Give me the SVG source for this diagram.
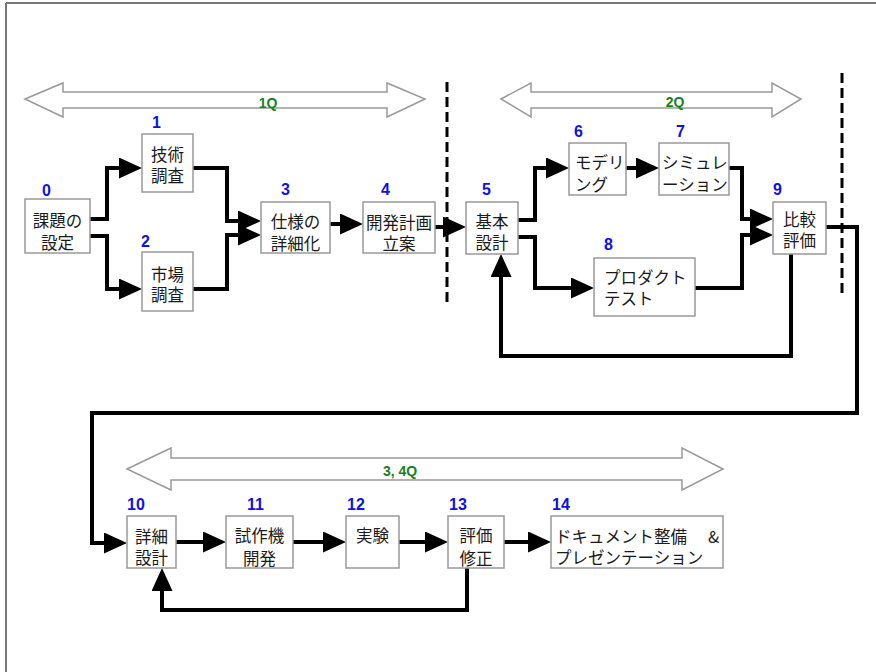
<svg xmlns="http://www.w3.org/2000/svg" width="876" height="672" viewBox="0 0 876 672">
<defs>
<style>
.frame{stroke:#777;stroke-width:2;fill:none}
.box{fill:#fff;stroke:#999;stroke-width:1.5}
.t{font-family:"Noto Sans CJK JP","Noto Sans CJK SC",sans-serif;font-size:16.5px;fill:#1a1a1a}
.c{text-anchor:middle}
.num{font-family:"Liberation Sans",Arial,sans-serif;font-weight:bold;font-size:16px;fill:#1010e8}
.q{font-family:"Liberation Sans",Arial,sans-serif;font-weight:bold;font-size:14px;fill:#17801a;text-anchor:middle}
.span{fill:#fff;stroke:#999;stroke-width:1.5}
.dash{stroke:#000;stroke-width:3;stroke-dasharray:10 5;fill:none}
.conn{fill:none;stroke:#000;stroke-width:4;stroke-linejoin:miter}
.arr{marker-end:url(#ah)}
</style>
<marker id="ah" markerUnits="userSpaceOnUse" markerWidth="24" markerHeight="22" refX="11" refY="10.5" orient="auto">
<path d="M0,0 L23,10.5 L0,21 Z" fill="#000"/>
</marker>
</defs>
<rect width="876" height="672" fill="#fff"/>
<g id="frame">
<line class="frame" x1="6" y1="3" x2="6" y2="672"/>
<line class="frame" x1="6" y1="3" x2="876" y2="3"/>
</g>
<g id="spans">
<polygon class="span" points="25,99 63,83 63,92 387,92 387,83 425,99 387,117 387,108 63,108 63,117"/>
<text class="q" x="268" y="108">1Q</text>
<polygon class="span" points="501,99 531,83 531,92 772,92 772,83 801,99 772,117 772,108 531,108 531,117"/>
<text class="q" x="675" y="107">2Q</text>
<polygon class="span" points="127,469 171,448 171,458 682,458 682,448 723,469 682,490 682,480 171,480 171,490"/>
<text class="q" x="400" y="476">3, 4Q</text>
</g>
<g id="dividers">
<line class="dash" x1="447" y1="82" x2="447" y2="302"/>
<line class="dash" x1="842" y1="73" x2="842" y2="295"/>
</g>
<g id="connectors">
<path class="conn arr" d="M90,219 H107 V168 H130"/>
<path class="conn arr" d="M90,236 H107 V289 H130"/>
<path class="conn arr" d="M193,168 H227 V221 H249"/>
<path class="conn arr" d="M193,289 H227 V235 H249"/>
<path class="conn arr" d="M330,224 H351"/>
<path class="conn arr" d="M435,227 H454"/>
<path class="conn arr" d="M518,220 H535 V168 H557"/>
<path class="conn arr" d="M518,237 H535 V288 H582"/>
<path class="conn arr" d="M626,168 H647"/>
<path class="conn arr" d="M729,168 H742 V219 H761"/>
<path class="conn arr" d="M695,288 H742 V235 H761"/>
<path class="conn arr" d="M791,254 V356 H501 V266"/>
<path class="conn arr" d="M826,227 H857 V413 H92 V543 H115"/>
<path class="conn arr" d="M176,542 H214"/>
<path class="conn arr" d="M293,542 H334"/>
<path class="conn arr" d="M399,542 H436"/>
<path class="conn arr" d="M504,542 H539"/>
<path class="conn arr" d="M467,568 V610 H162 V580"/>
</g>
<g id="n0"><rect class="box" x="25" y="199" width="65" height="54"/><text class="num" x="42" y="196">0</text><text class="t c"><tspan x="57.5" y="227">課題の</tspan><tspan x="57.5" y="249">設定</tspan></text></g>
<g id="n1"><rect class="box" x="142" y="134" width="51" height="58"/><text class="num" x="152" y="128">1</text><text class="t c"><tspan x="167.5" y="161">技術</tspan><tspan x="167.5" y="182">調査</tspan></text></g>
<g id="n2"><rect class="box" x="142" y="252" width="51" height="59"/><text class="num" x="141" y="247">2</text><text class="t c"><tspan x="167.5" y="281">市場</tspan><tspan x="167.5" y="301">調査</tspan></text></g>
<g id="n3"><rect class="box" x="261" y="202" width="69" height="51"/><text class="num" x="281" y="195">3</text><text class="t c"><tspan x="295.5" y="228">仕様の</tspan><tspan x="295.5" y="250">詳細化</tspan></text></g>
<g id="n4"><rect class="box" x="363" y="202" width="72" height="51"/><text class="num" x="381" y="195">4</text><text class="t c"><tspan x="399" y="229">開発計画</tspan><tspan x="399" y="250">立案</tspan></text></g>
<g id="n5"><rect class="box" x="466" y="202" width="52" height="52"/><text class="num" x="482" y="195">5</text><text class="t c"><tspan x="492" y="228">基本</tspan><tspan x="492" y="249">設計</tspan></text></g>
<g id="n6"><rect class="box" x="569" y="143" width="57" height="52"/><text class="num" x="574" y="137">6</text><text class="t"><tspan x="575" y="169">モデリ</tspan><tspan x="575" y="191">ング</tspan></text></g>
<g id="n7"><rect class="box" x="659" y="143" width="70" height="52"/><text class="num" x="676" y="137">7</text><text class="t"><tspan x="662" y="169">シミュレ</tspan><tspan x="662" y="191">ーション</tspan></text></g>
<g id="n8"><rect class="box" x="594" y="258" width="101" height="58"/><text class="num" x="604" y="250">8</text><text class="t"><tspan x="604" y="284">プロダクト</tspan><tspan x="604" y="305">テスト</tspan></text></g>
<g id="n9"><rect class="box" x="773" y="202" width="53" height="52"/><text class="num" x="773" y="195">9</text><text class="t c"><tspan x="799.5" y="226">比較</tspan><tspan x="799.5" y="247">評価</tspan></text></g>
<g id="n10"><rect class="box" x="127" y="516" width="49" height="52"/><text class="num" x="127" y="510">10</text><text class="t c"><tspan x="151.5" y="543">詳細</tspan><tspan x="151.5" y="564">設計</tspan></text></g>
<g id="n11"><rect class="box" x="226" y="516" width="67" height="52"/><text class="num" x="247" y="510">11</text><text class="t c"><tspan x="259.5" y="542">試作機</tspan><tspan x="259.5" y="565">開発</tspan></text></g>
<g id="n12"><rect class="box" x="346" y="516" width="53" height="52"/><text class="num" x="347" y="510">12</text><text class="t c" x="372.5" y="542">実験</text></g>
<g id="n13"><rect class="box" x="448" y="516" width="56" height="52"/><text class="num" x="449" y="510">13</text><text class="t c"><tspan x="476" y="542">評価</tspan><tspan x="476" y="565">修正</tspan></text></g>
<g id="n14"><rect class="box" x="551" y="516" width="172" height="52"/><text class="num" x="552" y="510">14</text><text class="t"><tspan x="555" y="543">ドキュメント整備 </tspan><tspan x="708" y="543">&amp;</tspan><tspan x="555" y="564">プレゼンテーション</tspan></text></g>
</svg>
